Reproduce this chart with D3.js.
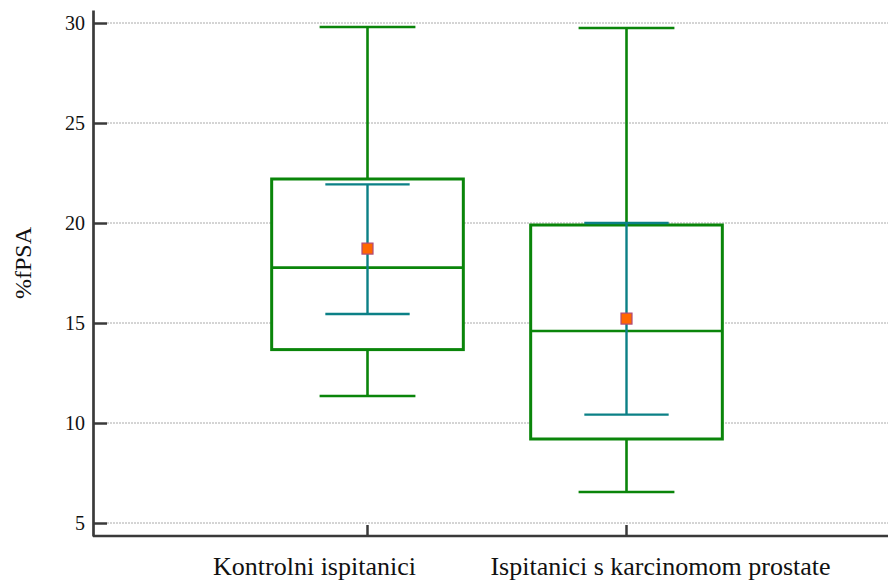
<!DOCTYPE html>
<html>
<head>
<meta charset="utf-8">
<script src="https://cdn.jsdelivr.net/npm/d3@7"></script>
<style>
  body { margin: 0; background: #fff; }
  svg { display: block; }
</style>
</head>
<body>
<div id="chart"></div>
<script>
// groups and their summary stats (%fPSA)
const groups = ["Kontrolni ispitanici", "Ispitanici s karcinomom prostate"];
const whiskerLow  = [11.35, 6.55];
const q1          = [13.67, 9.2];
const median      = [17.77, 14.6];
const q3          = [22.2, 19.9];
const whiskerHigh = [29.8, 29.75];
const mean        = [18.72, 15.22];
const ciLow       = [15.45, 10.42];
const ciHigh      = [21.93, 20.0];
const yTicks = [5, 10, 15, 20, 25, 30];

const width = 888, height = 582;
const green = "#0a850a", teal = "#0b8086";

const svg = d3.select("#chart").append("svg")
  .attr("width", width).attr("height", height);

const y = d3.scaleLinear().domain([4.35, 30.65]).range([536, 10]);
const x = d3.scaleBand().domain(groups).range([238, 756]).paddingInner(0);
const cx = g => x(g) + x.bandwidth() / 2;
const boxW = x.bandwidth() * 0.74;

const data = groups.map((g, i) => ({
  g, lo: whiskerLow[i], q1: q1[i], med: median[i], q3: q3[i], hi: whiskerHigh[i],
  mean: mean[i], ciLo: ciLow[i], ciHi: ciHigh[i]
}));

// grid lines
svg.append("g")
  .selectAll("line")
  .data(yTicks)
  .join("line")
  .attr("x1", 107).attr("x2", width)
  .attr("y1", d => y(d)).attr("y2", d => y(d))
  .attr("stroke", "#aaa")
  .attr("stroke-width", 1)
  .attr("stroke-dasharray", "2,1");

// y axis
const yAxis = svg.append("g")
  .attr("transform", "translate(93,0)")
  .call(d3.axisLeft(y).tickValues(yTicks).tickSize(-14).tickSizeOuter(0).tickPadding(8));
yAxis.select(".domain").attr("stroke", "#3a3a3a").attr("stroke-width", 2.7);
yAxis.selectAll(".tick line").attr("stroke", "#3a3a3a").attr("stroke-width", 2.5);
yAxis.selectAll(".tick text")
  .attr("font-family", "'Liberation Serif', 'Times New Roman', serif")
  .attr("font-size", "20px")
  .attr("fill", "#111");

// x axis
svg.append("line")
  .attr("x1", 93).attr("x2", width)
  .attr("y1", 536).attr("y2", 536)
  .attr("stroke", "#3a3a3a").attr("stroke-width", 2.7);

const xAxis = svg.append("g")
  .attr("transform", "translate(0,536)")
  .call(d3.axisBottom(x).tickSize(-11).tickSizeOuter(0).tickFormat(""));
xAxis.select(".domain").remove();
xAxis.selectAll(".tick line").attr("stroke", "#3a3a3a").attr("stroke-width", 2.5);

// category labels (offset as in the original)
const labelDx = [-53, 34];
svg.append("g")
  .selectAll("text")
  .data(groups)
  .join("text")
  .attr("x", (d, i) => cx(d) + labelDx[i])
  .attr("y", 575)
  .attr("text-anchor", "middle")
  .attr("font-family", "'Liberation Serif', 'Times New Roman', serif")
  .attr("font-size", "26px")
  .attr("fill", "#111")
  .text(d => d);

// y title
svg.append("text")
  .attr("transform", "translate(31,263) rotate(-90)")
  .attr("text-anchor", "middle")
  .attr("font-family", "'Liberation Serif', 'Times New Roman', serif")
  .attr("font-size", "24px")
  .attr("fill", "#111")
  .text("%fPSA");

// boxes
const box = svg.append("g").selectAll("g").data(data).join("g");

// whiskers
box.append("line")
  .attr("x1", d => cx(d.g)).attr("x2", d => cx(d.g))
  .attr("y1", d => y(d.q3)).attr("y2", d => y(d.hi))
  .attr("stroke", green).attr("stroke-width", 2.6);
box.append("line")
  .attr("x1", d => cx(d.g)).attr("x2", d => cx(d.g))
  .attr("y1", d => y(d.q1)).attr("y2", d => y(d.lo))
  .attr("stroke", green).attr("stroke-width", 2.6);
box.selectAll(".cap")
  .data(d => [d.lo, d.hi].map(v => ({ g: d.g, v })))
  .join("line")
  .attr("class", "cap")
  .attr("x1", d => cx(d.g) - boxW / 4).attr("x2", d => cx(d.g) + boxW / 4)
  .attr("y1", d => y(d.v)).attr("y2", d => y(d.v))
  .attr("stroke", green).attr("stroke-width", 2.6);

// box
box.append("rect")
  .attr("x", d => cx(d.g) - boxW / 2)
  .attr("width", boxW)
  .attr("y", d => y(d.q3))
  .attr("height", d => y(d.q1) - y(d.q3))
  .attr("fill", "#fff")
  .attr("stroke", green).attr("stroke-width", 3);

// median
box.append("line")
  .attr("x1", d => cx(d.g) - boxW / 2).attr("x2", d => cx(d.g) + boxW / 2)
  .attr("y1", d => y(d.med)).attr("y2", d => y(d.med))
  .attr("stroke", green).attr("stroke-width", 2.6);

// confidence interval of the mean
box.append("line")
  .attr("x1", d => cx(d.g)).attr("x2", d => cx(d.g))
  .attr("y1", d => y(d.ciLo)).attr("y2", d => y(d.ciHi))
  .attr("stroke", teal).attr("stroke-width", 2.4);
box.selectAll(".ci")
  .data(d => [d.ciLo, d.ciHi].map(v => ({ g: d.g, v })))
  .join("line")
  .attr("class", "ci")
  .attr("x1", d => cx(d.g) - boxW * 0.22).attr("x2", d => cx(d.g) + boxW * 0.22)
  .attr("y1", d => y(d.v)).attr("y2", d => y(d.v))
  .attr("stroke", teal).attr("stroke-width", 2.4);

// mean marker
box.append("rect")
  .attr("x", d => cx(d.g) - 5.5).attr("y", d => y(d.mean) - 5.5)
  .attr("width", 11).attr("height", 11)
  .attr("fill", "#ff6600")
  .attr("stroke", "#b04a78").attr("stroke-width", 1.2);
</script>
</body>
</html>
